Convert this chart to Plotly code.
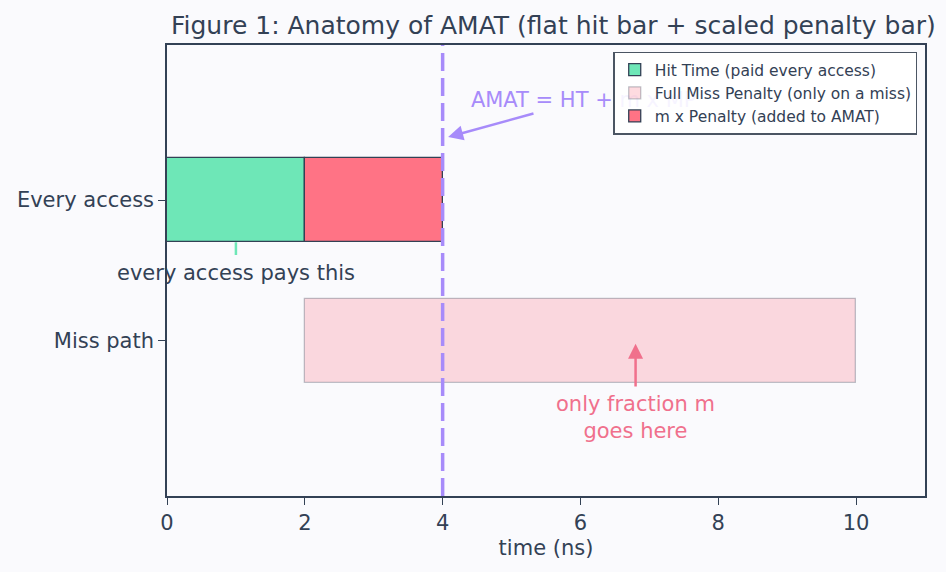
import plotly.graph_objects as go

# ---- data ----
rows = ["Every access", "Miss path"]
row_pos = [1, 0]
hit_time = 2.0          # ns, paid every access
miss_penalty = 8.0      # ns, full miss penalty
miss_rate = 0.25        # fraction m
amat = hit_time + miss_rate * miss_penalty   # 4.0
x_ticks = [0, 2, 4, 6, 8, 10]

INK = "#334155"
BG = "#fafafd"
GREEN = "#6ee7b7"
RED = "#ff7385"
PURPLE = "#a78bfa"
PINKTXT = "#f0708c"

fig = go.Figure()

fig.add_trace(go.Bar(
    y=[row_pos[0]], x=[hit_time], base=[0], orientation="h", width=0.6,
    name="Hit Time (paid every access)",
    marker=dict(color=GREEN, line=dict(color=INK, width=1.3)),
))
fig.add_trace(go.Bar(
    y=[row_pos[1]], x=[miss_penalty], base=[hit_time], orientation="h", width=0.6,
    name="Full Miss Penalty (only on a miss)",
    marker=dict(color="rgba(251,113,133,0.25)", line=dict(color="rgba(51,65,85,0.3)", width=1.3)),
))
fig.add_trace(go.Bar(
    y=[row_pos[0]], x=[miss_rate * miss_penalty], base=[hit_time], orientation="h", width=0.6,
    name="m x Penalty (added to AMAT)",
    marker=dict(color=RED, line=dict(color=INK, width=1.3)),
))

# AMAT text (as trace text so legend sits above it)
fig.add_trace(go.Scatter(
    x=[4.41], y=[1.70], mode="text", text=["AMAT = HT + m x MP"],
    textposition="middle right", showlegend=False, hoverinfo="skip",
    textfont=dict(family="DejaVu Sans", size=21, color=PURPLE),
))

fig.add_shape(type="line", xref="x", yref="paper", x0=amat, x1=amat, y0=0, y1=1,
              line=dict(color=PURPLE, width=3.5, dash="18px,7px"), layer="above")

# arrow to AMAT line
fig.add_annotation(x=4.08, y=1.447, ax=5.34, ay=1.617, xref="x", yref="y", axref="x", ayref="y",
                   text="", showarrow=True, arrowhead=2, arrowsize=1.2, arrowwidth=2.5, arrowcolor=PURPLE)

# every access pays this
fig.add_annotation(x=1.0, y=0.7, ax=1.0, ay=0.6, xref="x", yref="y", axref="x", ayref="y",
                   text="", showarrow=True, arrowhead=0, arrowwidth=2.5, arrowcolor=GREEN, standoff=0)
fig.add_annotation(x=1.0, y=0.48, xref="x", yref="y", text="every access pays this", showarrow=False,
                   font=dict(family="DejaVu Sans", size=21, color=INK))

# only fraction m goes here
fig.add_annotation(x=6.8, y=-0.02, ax=6.8, ay=-0.334, xref="x", yref="y", axref="x", ayref="y",
                   text="", showarrow=True, arrowhead=2, arrowsize=1.2, arrowwidth=2.5, arrowcolor=PINKTXT)
fig.add_annotation(x=6.8, y=-0.54, xref="x", yref="y", text="only fraction m<br>goes here", showarrow=False,
                   font=dict(family="DejaVu Sans", size=21, color=PINKTXT))

fig.update_layout(
    width=946, height=572,
    margin=dict(l=167, r=21, t=45, b=76),
    paper_bgcolor=BG, plot_bgcolor=BG,
    barmode="overlay", bargap=0,
    font=dict(family="DejaVu Sans", size=21, color=INK),
    title=dict(text="Figure 1: Anatomy of AMAT (flat hit bar + scaled penalty bar)",
               x=0.585, xanchor="center", xref="container", y=1 - 25 / 572, yanchor="middle", yref="container",
               font=dict(size=25, color=INK)),
    legend=dict(x=0.99, xanchor="right", y=0.985, yanchor="top",
                bgcolor="rgba(255,255,255,0.9)", bordercolor="#4b5563", borderwidth=1.3,
                font=dict(size=15.5, color=INK), tracegroupgap=0),
    showlegend=True,
    xaxis=dict(range=[0, 11], tickvals=x_ticks, ticktext=[str(t) for t in x_ticks],
               showgrid=False, zeroline=False, showline=True, mirror=True, linecolor=INK, linewidth=1.5,
               ticks="outside", ticklen=7, tickwidth=1.3, tickcolor=INK,
               title=dict(text="time (ns)", font=dict(size=21), standoff=6)),
    yaxis=dict(range=[-1.1, 2.1], tickvals=row_pos, ticktext=rows,
               showgrid=False, zeroline=False, showline=True, mirror=True, linecolor=INK, linewidth=1.5,
               ticks="outside", ticklen=7, tickwidth=1.3, tickcolor=INK),
)

fig.write_html("out.html")
